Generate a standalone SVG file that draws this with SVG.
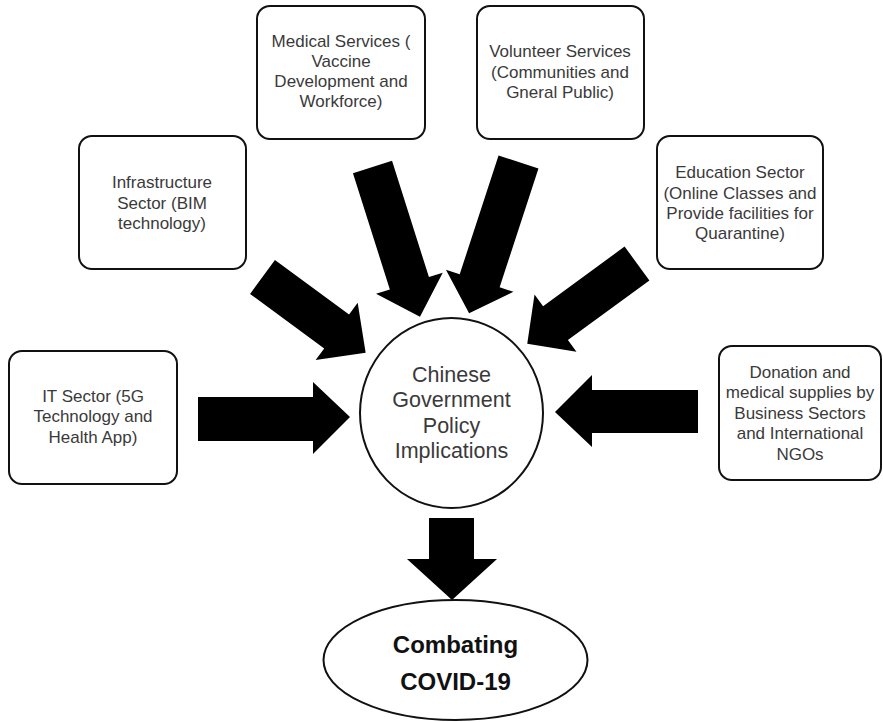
<svg xmlns="http://www.w3.org/2000/svg" width="883" height="722" viewBox="0 0 883 722">
<style>
.box{fill:#fff;stroke:#111;stroke-width:2}
.t{font-family:"Liberation Sans",Arial,sans-serif;font-size:17px;fill:#3a3a3a;text-anchor:middle}
.tc{font-family:"Liberation Sans",Arial,sans-serif;font-size:21.5px;fill:#3a3a3a;text-anchor:middle}
.tb{font-family:"Liberation Sans",Arial,sans-serif;font-size:24px;font-weight:bold;fill:#111;text-anchor:middle}
.arr{fill:#000}
</style>
<rect width="883" height="722" fill="#fff"/>
<g id="connectors">
<polygon class="arr" points="0,-21 92,-21 92,-35.5 128,0 92,35.5 92,21 0,21" transform="translate(262.5,277) rotate(36.3)"/>
<polygon class="arr" points="0,-20.5 122,-20.5 122,-35 157,0 122,35 122,20.5 0,20.5" transform="translate(372.5,167) rotate(72.4)"/>
<polygon class="arr" points="0,-21 125,-21 125,-35.5 159,0 125,35.5 125,21 0,21" transform="translate(518.5,162) rotate(108.1)"/>
<polygon class="arr" points="0,-21 101,-21 101,-35.5 136,0 101,35.5 101,21 0,21" transform="translate(637,263.5) rotate(143.8)"/>
<polygon class="arr" points="198,397 313,397 313,382 350,417 313,454 313,441 198,441"/>
<polygon class="arr" points="698,390 592,390 592,375 555,412 592,447 592,433 698,433"/>
<polygon class="arr" points="429,518 474,518 474,559 497,559 452,600 407,559 429,559"/>
</g>
<g id="medical">
<rect class="box" x="257" y="6" width="168" height="133" rx="13"/>
<text class="t" x="341" y="47">Medical Services (</text>
<text class="t" x="341" y="67">Vaccine</text>
<text class="t" x="341" y="87">Development and</text>
<text class="t" x="341" y="107">Workforce)</text>
</g>
<g id="volunteer">
<rect class="box" x="477" y="6" width="167" height="133" rx="13"/>
<text class="t" x="560" y="57">Volunteer Services</text>
<text class="t" x="560" y="78">(Communities and</text>
<text class="t" x="560" y="98">Gneral Public)</text>
</g>
<g id="infrastructure">
<rect class="box" x="79" y="136" width="167" height="133" rx="13"/>
<text class="t" x="162" y="188">Infrastructure</text>
<text class="t" x="162" y="209">Sector (BIM</text>
<text class="t" x="162" y="229">technology)</text>
</g>
<g id="education">
<rect class="box" x="657" y="136" width="166" height="133" rx="13"/>
<text class="t" x="740" y="178">Education Sector</text>
<text class="t" x="740" y="199">(Online Classes and</text>
<text class="t" x="740" y="219">Provide facilities for</text>
<text class="t" x="740" y="239">Quarantine)</text>
</g>
<g id="it">
<rect class="box" x="9" y="351" width="168" height="133" rx="13"/>
<text class="t" x="93" y="402">IT Sector (5G</text>
<text class="t" x="93" y="422">Technology and</text>
<text class="t" x="93" y="443">Health App)</text>
</g>
<g id="donation">
<rect class="box" x="719" y="346" width="162" height="134" rx="13"/>
<text class="t" x="800" y="378">Donation and</text>
<text class="t" x="800" y="398">medical supplies by</text>
<text class="t" x="800" y="419">Business Sectors</text>
<text class="t" x="800" y="439">and International</text>
<text class="t" x="800" y="460">NGOs</text>
</g>
<g id="policy">
<ellipse class="box" cx="451.5" cy="413" rx="91.5" ry="95"/>
<text class="tc" x="451.5" y="382">Chinese</text>
<text class="tc" x="451.5" y="407">Government</text>
<text class="tc" x="451.5" y="433">Policy</text>
<text class="tc" x="451.5" y="458">Implications</text>
</g>
<g id="combating">
<ellipse class="box" cx="455.5" cy="660" rx="132" ry="60"/>
<text class="tb" x="455.5" y="653">Combating</text>
<text class="tb" x="455.5" y="690">COVID-19</text>
</g>
</svg>
